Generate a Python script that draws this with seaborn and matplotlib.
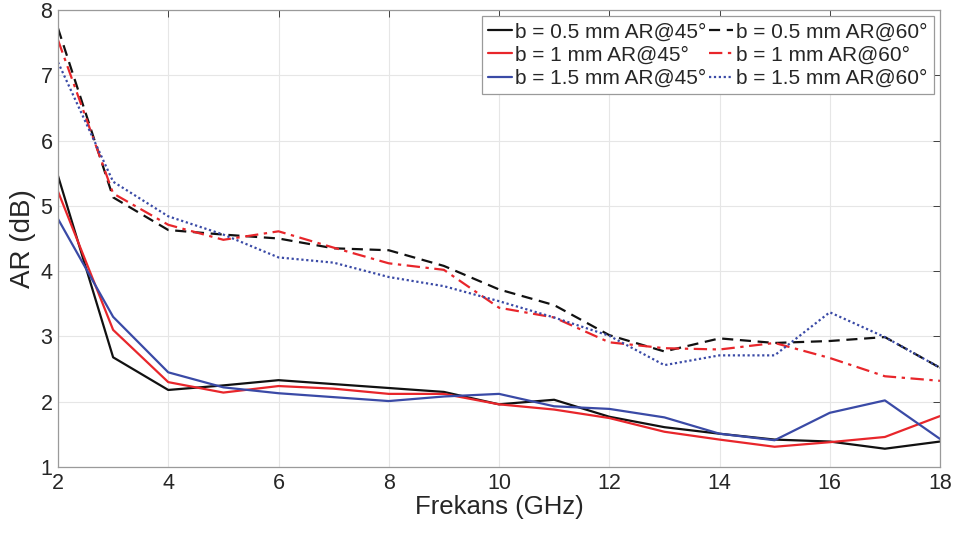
import matplotlib
matplotlib.use("Agg")
import matplotlib.pyplot as plt
import seaborn as sns
import pandas as pd

freq = list(range(2, 19))

ar45_b05 = [5.46, 2.68, 2.18, 2.25, 2.33, 2.27, 2.21, 2.15, 1.96, 2.03, 1.77, 1.61, 1.51, 1.42, 1.39, 1.28, 1.39]
ar45_b10 = [5.22, 3.10, 2.30, 2.14, 2.24, 2.20, 2.12, 2.12, 1.96, 1.88, 1.75, 1.54, 1.42, 1.31, 1.38, 1.46, 1.78]
ar45_b15 = [4.80, 3.30, 2.45, 2.22, 2.13, 2.07, 2.01, 2.08, 2.12, 1.93, 1.89, 1.76, 1.51, 1.41, 1.83, 2.02, 1.43]
ar60_b05 = [7.72, 5.13, 4.63, 4.56, 4.50, 4.35, 4.32, 4.08, 3.72, 3.48, 3.02, 2.77, 2.97, 2.90, 2.93, 2.99, 2.52]
ar60_b10 = [7.54, 5.19, 4.71, 4.48, 4.61, 4.36, 4.12, 4.02, 3.44, 3.29, 2.91, 2.82, 2.80, 2.90, 2.67, 2.39, 2.32]
ar60_b15 = [7.20, 5.37, 4.84, 4.56, 4.21, 4.13, 3.91, 3.77, 3.54, 3.29, 3.01, 2.56, 2.71, 2.71, 3.37, 2.99, 2.52]

# legend fills column by column: the 45° curves first, then the 60° curves
labels = [
    "b = 0.5 mm AR@45°", "b = 1 mm AR@45°", "b = 1.5 mm AR@45°",
    "b = 0.5 mm AR@60°", "b = 1 mm AR@60°", "b = 1.5 mm AR@60°",
]
series = [ar45_b05, ar45_b10, ar45_b15, ar60_b05, ar60_b10, ar60_b15]
black, red, blue = "#111111", "#e8262b", "#3a4aa6"
colors = [black, red, blue, black, red, blue]
styles = ["-", "-", "-", (0, (5, 3)), (0, (6, 2.5, 1.5, 2.5)), (0, (1, 1.2))]

sns.set_theme(style="whitegrid")
plt.rcParams["font.family"] = ["Liberation Sans", "DejaVu Sans"]

fig = plt.figure(figsize=(9.56, 5.45), dpi=100)
ax = fig.add_axes([58 / 956, 1 - 467 / 545, 882 / 956, 457 / 545])

for lab, ys, c, ls in zip(labels, series, colors, styles):
    df = pd.DataFrame({"f": freq, "ar": ys})
    sns.lineplot(data=df, x="f", y="ar", ax=ax, color=c, linestyle=ls,
                 linewidth=1.6, label=lab)

ax.set_xlim(2, 18)
ax.set_ylim(1, 8)
ax.set_xticks(range(2, 19, 2))
ax.set_yticks(range(1, 9))
ax.set_xlabel("Frekans (GHz)", fontsize=18.5, color="#262626", labelpad=1)
ax.set_ylabel("AR (dB)", fontsize=20, color="#262626", labelpad=3)
ax.tick_params(axis="both", labelsize=15.5, colors="#262626", direction="in",
               length=5, width=0.6, top=True, right=True, pad=4)
ax.grid(True, color="#e6e6e6", linewidth=0.8)
for s in ax.spines.values():
    s.set_visible(True)
    s.set_color("#9a9a9a")
    s.set_linewidth(0.9)

leg = ax.legend(ncol=2, loc="upper right", fontsize=15, frameon=True,
                fancybox=False, edgecolor="#9a9a9a", framealpha=1,
                handlelength=1.15, handletextpad=0.15, columnspacing=0.1,
                labelspacing=0.2, borderpad=0.3, borderaxespad=0.3)
leg.get_frame().set_linewidth(0.9)

fig.savefig("out.png", dpi=100)
